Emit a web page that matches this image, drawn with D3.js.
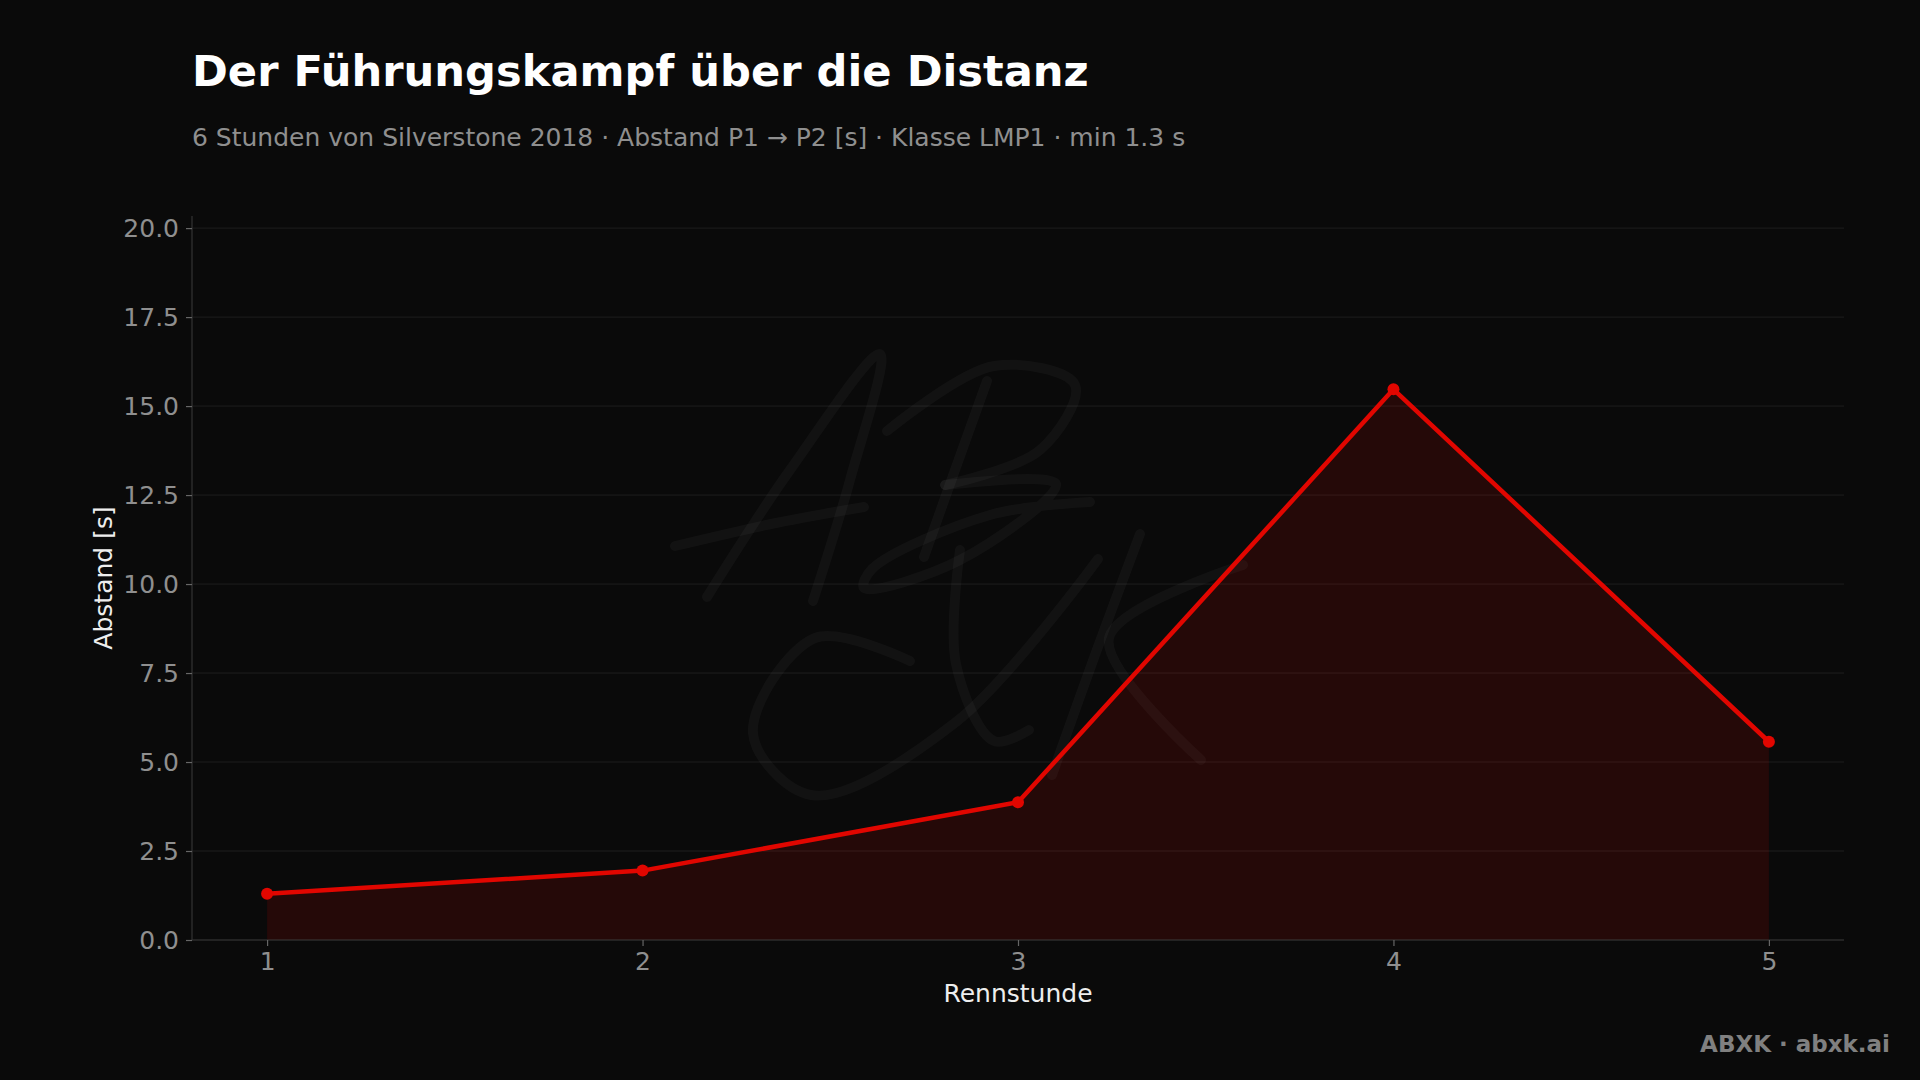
<!DOCTYPE html>
<html>
<head>
<meta charset="utf-8">
<script src="https://cdn.jsdelivr.net/npm/d3@7"></script>
<style>
  html, body { margin: 0; padding: 0; background: #0a0a0a; }
  svg { display: block; }
  text { font-family: "DejaVu Sans", sans-serif; }
</style>
</head>
<body>
<svg id="chart" width="1920" height="1080"></svg>
<script>
// ---- Data ----
const hours = [1, 2, 3, 4, 5];
const gaps = [1.3, 1.95, 3.87, 15.47, 5.57];
const yTicks = [0, 2.5, 5, 7.5, 10, 12.5, 15, 17.5, 20];
const xTicks = [1, 2, 3, 4, 5];
const titleText = "Der Führungskampf über die Distanz";
const subtitleText = "6 Stunden von Silverstone 2018 · Abstand P1 → P2 [s] · Klasse LMP1 · min 1.3 s";
const xLabel = "Rennstunde";
const yLabel = "Abstand [s]";
const footerText = "ABXK · abxk.ai";

// ---- Layout ----
const W = 1920, H = 1080;
const m = { left: 192, right: 1844, top: 216, bottom: 940 };
const red = "#e10600";

const svg = d3.select("#chart");
svg.append("rect").attr("width", W).attr("height", H).attr("fill", "#0a0a0a");

const x = d3.scaleLinear().domain([0.8, 5.2]).range([m.left, m.right]);
const y = d3.scaleLinear().domain([0, 20.34]).range([m.bottom, m.top]);

// grid
svg.append("g").selectAll("line").data(yTicks).join("line")
  .attr("x1", m.left).attr("x2", m.right)
  .attr("y1", d => y(d)).attr("y2", d => y(d))
  .attr("stroke", "#1e1e1e").attr("stroke-width", 1);

// area
const pts = hours.map((h, i) => [h, gaps[i]]);
svg.append("path").datum(pts)
  .attr("d", d3.area().x(d => x(d[0])).y0(y(0)).y1(d => y(d[1])))
  .attr("fill", red).attr("fill-opacity", 0.13);

// watermark (decorative handwritten logo)
const wm = [
  [[707,597],[790,470],[880,354],[850,480],[813,601]],
  [[675,546],[776,523],[864,507]],
  [[987,381],[955,470],[924,557]],
  [[887,431],[994,366],[1075,385],[1040,450],[945,485]],
  [[945,485],[1056,484],[960,560],[864,588],[872,569],[990,515],[1090,502]],
  [[910,661],[815,638],[753,733],[811,795],[956,722],[1098,559]],
  [[960,550],[956,664],[994,741],[1029,730]],
  [[1140,534],[1095,655],[1052,775]],
  [[1243,565],[1109,638],[1201,760]]
];
const wmLine = d3.line().curve(d3.curveCatmullRom.alpha(0.5));
svg.append("g").selectAll("path").data(wm).join("path")
  .attr("d", d => wmLine(d))
  .attr("fill", "none").attr("stroke", "#ffffff").attr("stroke-opacity", 0.035)
  .attr("stroke-width", 10).attr("stroke-linecap", "round").attr("stroke-linejoin", "round");

// line
svg.append("path").datum(pts)
  .attr("d", d3.line().x(d => x(d[0])).y(d => y(d[1])))
  .attr("fill", "none").attr("stroke", red).attr("stroke-width", 4.5)
  .attr("stroke-linejoin", "round");

svg.append("g").selectAll("circle").data(pts).join("circle")
  .attr("cx", d => x(d[0])).attr("cy", d => y(d[1])).attr("r", 6)
  .attr("fill", red);

// axes
const yAxis = d3.axisLeft(y).tickValues(yTicks).tickFormat(d3.format(".1f")).tickSize(6).tickPadding(7);
const gy = svg.append("g").attr("transform", `translate(${m.left},0)`).call(yAxis);
const xAxis = d3.axisBottom(x).tickValues(xTicks).tickFormat(d3.format("d")).tickSize(6).tickPadding(6);
const gx = svg.append("g").attr("transform", `translate(0,${m.bottom})`).call(xAxis);
[gx, gy].forEach(g => {
  g.select(".domain").attr("stroke", "#333333").attr("stroke-width", 1.2);
  g.selectAll(".tick line").attr("stroke", "#666666").attr("stroke-width", 1.2);
  g.selectAll(".tick text").attr("fill", "#8f8f8f").attr("font-size", 25)
    .attr("font-family", "DejaVu Sans, sans-serif");
});
gy.select(".domain").attr("d", `M0,${m.top}V${m.bottom}`);
gx.select(".domain").attr("d", `M${m.left},0H${m.right}`);

// axis labels
svg.append("text").attr("x", (m.left + m.right) / 2).attr("y", 1002)
  .attr("text-anchor", "middle").attr("fill", "#eeeeee").attr("font-size", 25).text(xLabel);
svg.append("text").attr("transform", `translate(112,${(m.top + m.bottom) / 2}) rotate(-90)`)
  .attr("text-anchor", "middle").attr("fill", "#eeeeee").attr("font-size", 25).text(yLabel);

// title & subtitle
svg.append("text").attr("x", 192).attr("y", 86).attr("fill", "#ffffff")
  .attr("font-size", 43.2).attr("font-weight", "bold").text(titleText);
svg.append("text").attr("x", 192).attr("y", 146).attr("fill", "#8f8f8f")
  .attr("font-size", 25).text(subtitleText);

// footer
svg.append("text").attr("x", 1890).attr("y", 1052).attr("text-anchor", "end")
  .attr("fill", "#808080").attr("font-size", 23).attr("font-weight", "bold").text(footerText);
</script>
</body>
</html>
